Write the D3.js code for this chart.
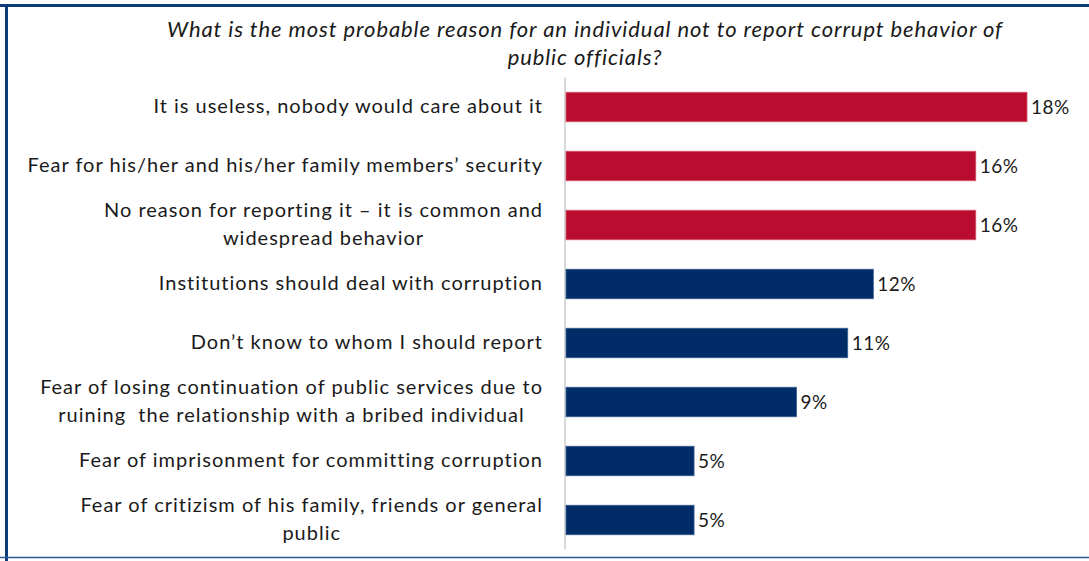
<!DOCTYPE html>
<html>
<head>
<meta charset="utf-8">
<script src="https://cdn.jsdelivr.net/npm/d3@7"></script>
<style>
  html, body { margin: 0; padding: 0; background: #fff; }
  svg { display: block; }
  text { font-family: "Lato", "Open Sans", sans-serif; fill: #1a1a1a; white-space: pre; }
</style>
</head>
<body>
<svg id="chart" width="1089" height="561"></svg>
<script>
// Survey answers, top to bottom; each entry is split into its display lines
const reasons = [
  ["It is useless, nobody would care about it"],
  ["Fear for his/her and his/her family members\u2019 security"],
  ["No reason for reporting it \u2013 it is common and", "widespread behavior"],
  ["Institutions should deal with corruption"],
  ["Don\u2019t know to whom I should report"],
  ["Fear of losing continuation of public services due to", "ruining  the relationship with a bribed individual"],
  ["Fear of imprisonment for committing corruption"],
  ["Fear of critizism of his family, friends or general", "public"]
];
const shares = [18, 16, 16, 12, 11, 9, 5, 5];
const highlighted = [true, true, true, false, false, false, false, false];
const titleLines = [
  "What is the most probable reason for an individual not to report corrupt behavior of",
  "public officials?"
];

const svg = d3.select("#chart");
const W = 1089, H = 561;

// frame: heavy rule on top and left, thin rule at the bottom
svg.append("line").attr("x1", 0).attr("x2", W).attr("y1", 5.5).attr("y2", 5.5)
  .attr("stroke", "#0d3a78").attr("stroke-width", 3);
svg.append("line").attr("x1", 6.5).attr("x2", 6.5).attr("y1", 4).attr("y2", H)
  .attr("stroke", "#0d3a78").attr("stroke-width", 3);
svg.append("line").attr("x1", 0).attr("x2", W).attr("y1", 557.5).attr("y2", 557.5)
  .attr("stroke", "#2e5a92").attr("stroke-width", 1.5);

// title
svg.append("g").selectAll("text").data(titleLines).join("text")
  .attr("x", 585).attr("y", (d, i) => 37 + i * 28)
  .attr("text-anchor", "middle")
  .style("font-style", "italic").style("font-size", "22px")
  .style("letter-spacing", "0.9px")
  .text(d => d);

const x0 = 566;
const x = d3.scaleLinear().domain([0, 18]).range([x0, 1027]);
const y = d3.scaleBand().domain(d3.range(reasons.length))
  .range([77.5, 549.5]).paddingInner(0.5).paddingOuter(0.25);

// category axis line
svg.append("line").attr("x1", 565).attr("x2", 565)
  .attr("y1", y.range()[0]).attr("y2", y.range()[1])
  .attr("stroke", "#d9d9d9").attr("stroke-width", 2);

// bars
svg.append("g").selectAll("rect").data(shares).join("rect")
  .attr("x", x(0))
  .attr("y", (d, i) => y(i))
  .attr("width", d => x(d) - x(0))
  .attr("height", y.bandwidth())
  .attr("fill", (d, i) => highlighted[i] ? "#ba0c2f" : "#002d67")
  .attr("stroke", (d, i) => highlighted[i] ? "#d6546c" : "#3a5f93")
  .attr("stroke-width", 0.8);

// value labels
svg.append("g").selectAll("text").data(shares).join("text")
  .attr("x", d => x(d) + 4)
  .attr("y", (d, i) => y(i) + y.bandwidth() / 2 - 1)
  .attr("dominant-baseline", "central")
  .style("font-size", "19px")
  .style("letter-spacing", "0.5px")
  .text(d => d + "%");

// category labels: block right-aligned to the axis, lines centred inside it
const labelRight = 543;
const lineGap = 28;
const lg = svg.append("g");
reasons.forEach((lines, i) => {
  const cy = y(i) + y.bandwidth() / 2 - 2;
  const g = lg.append("g");
  const ts = g.selectAll("text").data(lines).join("text")
    .attr("text-anchor", "middle")
    .attr("dominant-baseline", "central")
    .style("font-size", "20px")
    .style("letter-spacing", "1px")
    .attr("y", (d, k) => cy + (k - (lines.length - 1) / 2) * lineGap)
    .text(d => d);
  let maxW = 0;
  ts.each(function () { maxW = Math.max(maxW, this.getComputedTextLength()); });
  ts.attr("x", labelRight - maxW / 2);
});
</script>
</body>
</html>
